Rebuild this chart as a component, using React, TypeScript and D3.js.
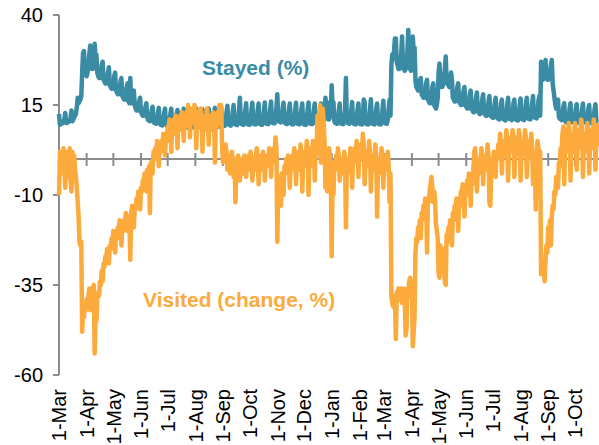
import React from "react";
import * as d3 from "d3";

// daily values from 1 Mar 2020, one row per week (Sun..Sat)
const startDate = new Date(2020, 2, 1);
const endDate = new Date(2021, 9, 28);

const stayed = [
  12.5, 9.5, 10, 9.8, 10, 10.2, 11,
  12.8, 10, 10, 10.2, 10.5, 10.5, 11.5,
  13.5, 10.5, 11, 11.5, 12, 12.5, 14.5,
  17, 15.5, 16, 16.5, 17.5, 24, 29.5,
  30, 25, 24, 23, 24, 26, 29,
  31.5, 26, 25, 25, 27, 32, 28,
  29, 24, 23, 22.5, 22.5, 23.5, 26,
  27, 22, 21.5, 21, 21, 22, 24,
  25.5, 20.5, 20, 19.5, 19.5, 20.5, 23,
  24, 19, 18.5, 18, 18, 19, 21.5,
  22.5, 17.5, 17, 16.5, 16.5, 17.5, 20,
  21, 16, 15.5, 22.5, 15.5, 16, 18.5,
  19, 15, 14, 13.5, 13.5, 14, 16,
  17, 13, 12.5, 12, 12, 12.5, 14.5,
  15.5, 11.5, 10.8, 11, 10.5, 11.2, 13.5,
  14.5, 10.5, 10, 10.3, 9.8, 10.6, 13,
  14.2, 10, 9.5, 9.8, 9.3, 10.2, 12.8,
  14, 9.6, 9.2, 9.5, 9, 9.8, 12.6,
  14, 9.4, 9, 9.3, 8.9, 9.7, 12.5,
  13.6, 9.3, 9, 9.2, 8.8, 9.6, 12.4,
  14, 9.3, 8.9, 9.2, 8.8, 9.5, 12.5,
  13.7, 9.2, 8.9, 9.1, 8.8, 9.5, 12.3,
  14.1, 9.3, 9, 9.2, 8.9, 9.6, 12.6,
  13.8, 9.2, 8.9, 9.2, 8.8, 9.6, 12.4,
  14, 9.3, 9, 9.3, 8.9, 9.7, 12.6,
  14.2, 9.5, 9.1, 9.4, 9, 9.8, 12.8,
  14.3, 9.7, 9.3, 9.6, 9.2, 10, 13,
  14.8, 9.9, 9.5, 9.7, 9.3, 10.2, 13.2,
  15, 10, 9.6, 9.8, 9.4, 10.3, 13.4,
  17, 10.1, 9.7, 9.9, 9.5, 10.4, 13.4,
  15.5, 10, 9.6, 9.9, 9.5, 10.4, 13.6,
  15.6, 10.1, 9.7, 10, 9.6, 10.5, 13.6,
  15.4, 10, 9.6, 9.9, 9.5, 10.4, 13.5,
  15.7, 10.2, 9.8, 10.1, 9.7, 10.6, 13.8,
  16, 10.5, 10, 10.3, 9.9, 11, 14.2,
  18, 11, 10.4, 10.6, 10.2, 11, 14.2,
  15.6, 10.3, 9.9, 10.1, 9.7, 10.6, 13.8,
  15.4, 10.1, 9.7, 10, 9.6, 10.5, 13.6,
  15.6, 10.1, 9.8, 10, 9.6, 10.5, 13.8,
  15.4, 10, 9.6, 9.9, 9.5, 10.4, 13.5,
  15.7, 10.1, 9.8, 10, 9.7, 10.6, 13.8,
  15.4, 10.1, 9.8, 10.2, 9.9, 10.8, 13.6,
  15.4, 10.6, 10.4, 10.8, 11.5, 17, 14,
  15.8, 11, 11, 11.6, 12.5, 20.5, 15,
  15.8, 10.5, 10, 10.2, 9.8, 10.6, 13.6,
  15.4, 10.1, 9.8, 10.1, 9.7, 10.6, 13.6,
  22.5, 10.5, 10, 10.2, 9.8, 10.6, 13.6,
  15.8, 10.1, 9.8, 9.9, 9.6, 10.5, 13.6,
  15.4, 10.1, 9.7, 9.9, 9.6, 10.5, 16.5,
  15.8, 10.1, 9.7, 9.9, 9.6, 10.5, 13.6,
  16.6, 10.1, 9.8, 9.9, 9.6, 10.5, 14,
  15.4, 10.1, 9.7, 9.9, 9.6, 10.5, 13.6,
  16.2, 10.2, 9.9, 10.1, 9.8, 11, 14,
  16.5, 12, 26, 29, 28, 30, 33.5,
  33.5, 27, 26, 25, 25, 26, 29,
  34, 26, 25, 24.5, 25, 26, 30,
  35.8, 26, 25, 24.5, 26, 34, 30,
  31, 22, 20, 19.5, 19, 20, 22,
  22.5, 18, 17.5, 17, 17, 18, 21,
  22, 16.5, 16, 15.5, 15.5, 16.5, 20,
  21, 15, 14.5, 14, 15, 17, 24,
  26.5, 21, 20, 20, 20.5, 22, 25,
  28.5, 22, 21, 20.5, 20, 21, 24,
  22, 17, 16.5, 16, 16, 17, 20,
  21, 16, 15.5, 15, 15, 16, 19,
  20, 15, 14.5, 14, 14, 15, 18,
  19, 14, 13.5, 13, 13, 14, 17,
  18.5, 13.5, 13, 12.5, 12.5, 13.5, 16.5,
  18, 13, 12.5, 12, 12, 13, 16,
  17.5, 12.3, 11.8, 12, 11.4, 12.4, 15.5,
  17, 11.8, 11.3, 11.5, 11, 12, 15.4,
  16.5, 11.5, 11, 11.2, 10.7, 11.7, 15,
  17, 11.7, 11.1, 11.3, 10.8, 11.8, 15.5,
  16.5, 11.4, 10.9, 11.1, 10.7, 11.7, 15,
  16.8, 11.5, 11, 11.2, 10.8, 11.9, 15.4,
  17, 11.7, 11.2, 11.4, 11, 12.1, 15.6,
  17.5, 12, 11.5, 11.7, 11.3, 12.4, 16,
  17.5, 12, 27, 23, 22, 22.5, 26,
  27.5, 23, 22, 22, 22.5, 23.5, 26,
  27.5, 21, 19, 17, 15, 14, 15.5,
  16.5, 11.7, 11.2, 11.4, 10.8, 11.4, 14.5,
  15.5, 10.7, 10.2, 10.4, 9.9, 10.8, 14,
  15.5, 10.8, 10.3, 10.4, 10, 10.9, 14,
  15.2, 10.6, 10.1, 10.3, 9.8, 10.8, 13.8,
  15.4, 10.6, 10.2, 10.3, 9.9, 10.9, 14,
  15, 10.4, 10, 10.2, 9.8, 10.8, 13.8,
  15.2, 10.6, 10.2, 10.3,
];

const visited = [
  -10, 2, -3, 1, -4, 3, -2,
  -8, 1, -2, 2, -5, 3, -6,
  -9, 2, -1, 1, -3, -5, -8,
  -12, -16, -23, -24, -23, -48, -42,
  -44, -40, -42, -39, -41, -38, -36,
  -42, -38, -36, -37, -35, -54, -44,
  -45, -39, -37, -38, -34, -35, -31,
  -34, -29, -30, -27, -28, -25, -26,
  -29, -24, -25, -22, -23, -20, -22,
  -26, -21, -22, -19, -20, -17, -19,
  -24, -19, -20, -17, -18, -15, -17,
  -20, -16, -17, -28, -15, -13, -14,
  -19, -13, -14, -11, -12, -9, -11,
  -14, -8, -9, -6, -7, -4, -5,
  -9, -3, -4, -2, -15, -1, -2,
  -4, 2, 0, 3, 1, 5, 3,
  -2, 4, 2, 5, 3, 7, 5,
  1, 7, 5, 9, 6, 11, 9,
  2, 9, 7, 11, 8, 12, 10,
  3, 10, 8, 12, 9, 13, 11,
  5, 12, 9, 13, 11, 15, 13,
  6, 13, 10, 14, 11, 15, 14,
  3, 12, 9, 13, 10, 14, 12,
  2, 11, 8, 12, 9, 14, 12,
  4, 11, 8, 12, 9, 13, 12,
  -1, 11, 9, 13, 10, 15, 14,
  15, 3, -1, 2, 0, 4, 2,
  -3, -1, 1, -4, 0, 2, -1,
  -5, 0, -12, -2, -3, 1, -1,
  -6, -1, -3, 0, -4, 1, -2,
  -5, 0, -3, 1, -2, 2, 0,
  -6, -1, 0, -3, 1, 3, 0,
  -7, -1, -3, 1, -2, 2, 0,
  -6, 0, -2, 1, -1, 3, 1,
  -5, 1, -1, 3, 2, 6, 3,
  -23, -7, -9, -5, -13, -4, -6,
  -10, -2, -4, 0, -3, 1, -1,
  -8, -1, -3, 1, -1, 3, 1,
  -7, 0, -2, 2, -3, 4, 2,
  -9, 0, -2, 2, 0, 5, 3,
  -10, 0, -2, 3, 1, 5, 3,
  -6, 3, 1, 12, 6, 10, 15,
  -1, 12, 14, 10, 5, -8, -3,
  -9, 1, 3, 0, -2, -27, -6,
  -10, -1, -3, 1, -1, 3, 1,
  -6, -2, 0, -3, -4, 2, 0,
  -19, -2, -4, 0, -2, 3, 1,
  -8, 1, -1, 3, 1, 5, 3,
  -5, 2, 0, 4, 2, 7, 4,
  -7, 0, -2, 2, 0, 5, 2,
  -9, -1, -3, 1, -1, 4, 1,
  -16, -2, -4, 0, -1, 3, 0,
  -8, -1, -3, 1, -1, 2, -2,
  -12, -4, -38, -40, -41, -40, -38,
  -50, -37, -38, -36, -39, -38, -36,
  -40, -37, -36, -38, -49, -47, -36,
  -38, -34, -33, -35, -34, -52, -48,
  -44, -26, -22, -23, -19, -20, -17,
  -22, -15, -17, -13, -14, -11, -12,
  -26, -11, -12, -9, -7, -5, -8,
  -12, -9, -11, -18, -20, -22, -32,
  -33, -24, -27, -26, -25, -30, -34,
  -35, -21, -23, -19, -20, -17, -18,
  -24, -15, -17, -13, -14, -11, -12,
  -20, -11, -13, -9, -10, -7, -8,
  -16, -9, -10, -6, -7, -4, -6,
  -13, -5, -7, -3, 2, 3, -1,
  -9, -2, -4, 0, -1, 3, 1,
  -7, -1, -3, 1, -1, 4, 1,
  -12, -13, -4, -1, -2, 2, 0,
  -5, 2, 0, 4, 3, 7, 5,
  -4, 3, 1, 5, 3, 8, 5,
  -6, 3, 2, 6, 4, 8, 6,
  -5, 3, 1, 6, 4, 8, 6,
  -6, 3, 1, 5, 4, 8, 6,
  -5, 2, 0, 5, 3, 7, 3,
  -7, 1, -1, -14, 1, 5, 3,
  -6, 2, -32, -30, -31, -29, -34,
  -28, -24, -26, -19, -21, -17, -24,
  -16, -13, -14, -9, -10, -5, -6,
  -8, -1, -2, 3, 2, 7, 9,
  -7, 4, 2, 8, 5, 10, 8,
  -6, 4, 2, 7, 5, 10, 8,
  -3, 5, 3, 8, 6, 11, 9,
  -5, 4, 2, 7, 5, 10, 8,
  -4, 5, 3, 8, 6, 11, 9,
  -3, 6, 4, 10,
];

const yTicks = [40, 15, -10, -35, -60];

const W = 599;
const H = 445;
const FONT = "'Liberation Sans', Arial, sans-serif";
const TEAL = "#3a8ba4";
const ORANGE = "#fcaa3b";
const GREY = "#8c8c8c";

export default function App() {
  const x = d3.scaleTime().domain([startDate, endDate]).range([59, 599]);
  const y = d3.scaleLinear().domain([-60, 40]).range([375, 15]);

  const day = (i: number) => d3.timeDay.offset(startDate, i);
  const line = d3
    .line<number>()
    .x((_, i) => x(day(i)))
    .y((d) => y(d));

  const months = d3.timeMonth.range(startDate, endDate);
  const fmt = d3.timeFormat("%-d-%b");
  const y0 = y(0);

  return (
    <svg
      width={W}
      height={H}
      style={{ position: "absolute", left: 0, top: 0, background: "#fff" }}
      fontFamily={FONT}
    >
      {/* y axis */}
      <line x1={59} x2={59} y1={y(40)} y2={y(-60)} stroke={GREY} strokeWidth={2} />
      {yTicks.map((t) => (
        <g key={t}>
          <line x1={53} x2={59} y1={y(t)} y2={y(t)} stroke={GREY} strokeWidth={2} />
          <text x={43} y={y(t)} dy="0.36em" textAnchor="end" fontSize={20} fill="#000">
            {t}
          </text>
        </g>
      ))}

      {/* zero line with month ticks */}
      <line x1={59} x2={W} y1={y0} y2={y0} stroke={GREY} strokeWidth={2} />
      {months.slice(1).map((m) => (
        <line key={+m} x1={x(m)} x2={x(m)} y1={y0 - 6} y2={y0 + 7} stroke={GREY} strokeWidth={2} />
      ))}

      {/* month labels */}
      {months.map((m) => (
        <text
          key={"l" + +m}
          transform={`translate(${x(m)},389) rotate(-90)`}
          textAnchor="end"
          dy="0.36em"
          fontSize={20}
          fill="#000"
        >
          {fmt(m)}
        </text>
      ))}

      <path d={line(stayed) ?? ""} fill="none" stroke={TEAL} strokeWidth={4.5} strokeLinejoin="round" />
      <path d={line(visited) ?? ""} fill="none" stroke={ORANGE} strokeWidth={4.5} strokeLinejoin="round" />

      <text x={202} y={75} fontSize={21} fontWeight="bold" fill={TEAL}>
        Stayed (%)
      </text>
      <text x={143} y={307} fontSize={21} fontWeight="bold" fill={ORANGE}>
        Visited (change, %)
      </text>
    </svg>
  );
}
